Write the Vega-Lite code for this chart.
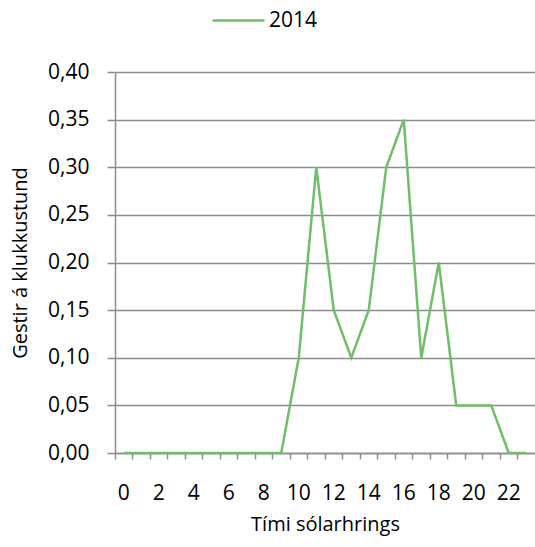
{
  "$schema": "https://vega.github.io/schema/vega-lite/v6.json",
  "width": 420,
  "height": 381,
  "autosize": {"type": "none"},
  "padding": {"left": 115, "top": 72, "right": 0, "bottom": 94},
  "background": "white",
  "config": {
    "font": "Open Sans",
    "view": {"stroke": null}
  },
  "data": {
    "values": [
      {"hour": 0, "value": 0, "year": "2014"},
      {"hour": 1, "value": 0, "year": "2014"},
      {"hour": 2, "value": 0, "year": "2014"},
      {"hour": 3, "value": 0, "year": "2014"},
      {"hour": 4, "value": 0, "year": "2014"},
      {"hour": 5, "value": 0, "year": "2014"},
      {"hour": 6, "value": 0, "year": "2014"},
      {"hour": 7, "value": 0, "year": "2014"},
      {"hour": 8, "value": 0, "year": "2014"},
      {"hour": 9, "value": 0, "year": "2014"},
      {"hour": 10, "value": 0.10, "year": "2014"},
      {"hour": 11, "value": 0.30, "year": "2014"},
      {"hour": 12, "value": 0.15, "year": "2014"},
      {"hour": 13, "value": 0.10, "year": "2014"},
      {"hour": 14, "value": 0.15, "year": "2014"},
      {"hour": 15, "value": 0.30, "year": "2014"},
      {"hour": 16, "value": 0.35, "year": "2014"},
      {"hour": 17, "value": 0.10, "year": "2014"},
      {"hour": 18, "value": 0.20, "year": "2014"},
      {"hour": 19, "value": 0.05, "year": "2014"},
      {"hour": 20, "value": 0.05, "year": "2014"},
      {"hour": 21, "value": 0.05, "year": "2014"},
      {"hour": 22, "value": 0, "year": "2014"},
      {"hour": 23, "value": 0, "year": "2014"}
    ]
  },
  "mark": {"type": "line", "strokeWidth": 2.5},
  "encoding": {
    "x": {
      "field": "hour",
      "type": "ordinal",
      "sort": null,
      "scale": {"type": "band", "paddingInner": 0, "paddingOuter": 0},
      "axis": {
        "title": "Tími sólarhrings",
        "titleFont": "Open Sans",
        "titleFontSize": 20,
        "titleFontWeight": "normal",
        "titleColor": "#000000",
        "titlePadding": 11,
        "labelAngle": 0,
        "labelFontSize": 21,
        "labelColor": "#000000",
        "labelPadding": 23,
        "labelExpr": "datum.value % 2 == 0 ? datum.label : ''",
        "bandPosition": 0,
        "tickColor": "#8c8c8c",
        "tickWidth": 1.5,
        "tickSize": 6,
        "domainColor": "#8c8c8c",
        "domainWidth": 1.5,
        "grid": false
      }
    },
    "y": {
      "field": "value",
      "type": "quantitative",
      "scale": {"domain": [0, 0.4], "nice": false},
      "axis": {
        "title": "Gestir á klukkustund",
        "titleFont": "Open Sans",
        "titleFontSize": 20,
        "titleFontWeight": "normal",
        "titleColor": "#000000",
        "titlePadding": 17,
        "values": [0, 0.05, 0.1, 0.15, 0.2, 0.25, 0.3, 0.35, 0.4],
        "labelExpr": "replace(format(datum.value, '.2f'), '.', ',')",
        "labelFontSize": 21,
        "labelColor": "#000000",
        "labelPadding": 18,
        "tickColor": "#8c8c8c",
        "tickWidth": 1.5,
        "tickSize": 8,
        "domainColor": "#8c8c8c",
        "domainWidth": 1.5,
        "grid": true,
        "gridColor": "#8c8c8c",
        "gridWidth": 1.5
      }
    },
    "color": {
      "field": "year",
      "type": "nominal",
      "scale": {"range": ["#6fbf6a"]},
      "legend": {
        "title": null,
        "orient": "none",
        "legendX": 96,
        "legendY": -79,
        "symbolType": "stroke",
        "symbolSize": 2704,
        "symbolStrokeWidth": 2.5,
        "labelFontSize": 21,
        "labelColor": "#000000",
        "labelOffset": 3
      }
    }
  }
}
